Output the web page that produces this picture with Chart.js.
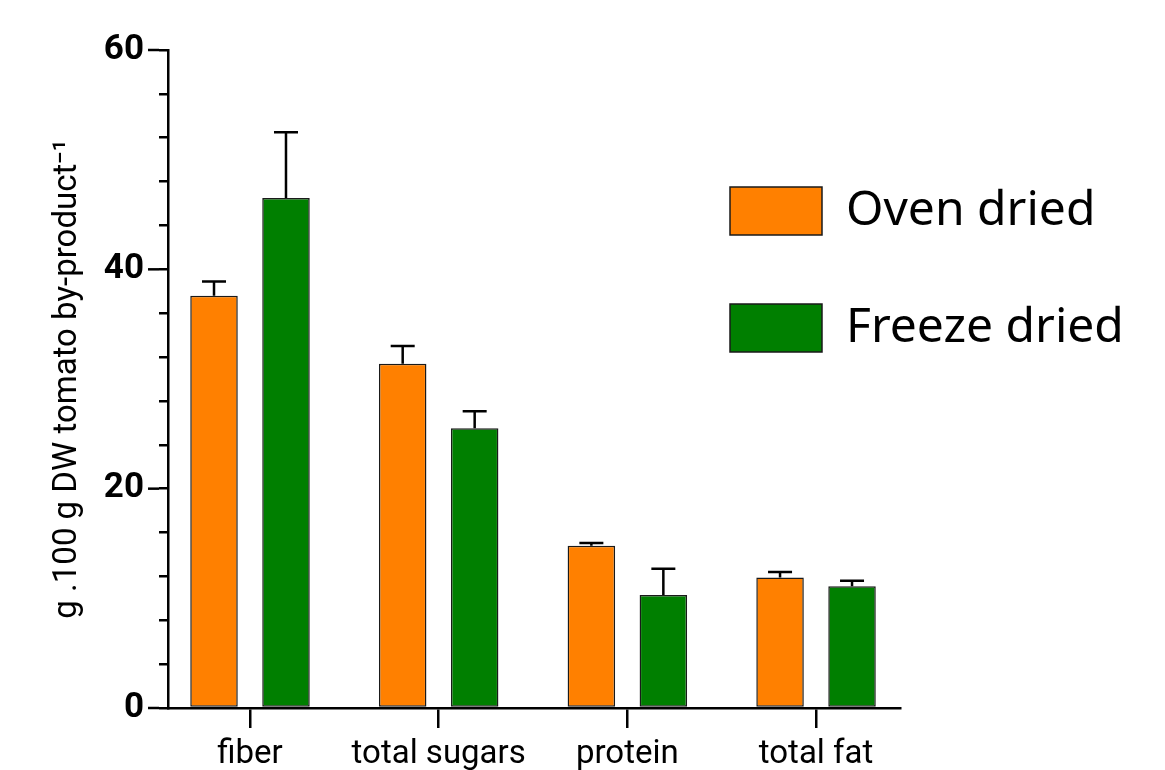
<!DOCTYPE html>
<html>
<head>
<meta charset="utf-8">
<script src="https://cdn.jsdelivr.net/npm/chart.js@4/dist/chart.umd.min.js"></script>
<style>
  html, body { margin: 0; padding: 0; background: #fff; }
  #wrap { width: 1165px; height: 770px; }
</style>
</head>
<body>
<div id="wrap"><canvas id="chart" width="1165" height="770"></canvas></div>
<script>
const categories = ['fiber', 'total sugars', 'protein', 'total fat'];
const ovenValues   = [37.6, 31.4, 14.8, 11.9];
const ovenErrors   = [1.3, 1.6, 0.25, 0.5];
const freezeValues = [46.5, 25.5, 10.3, 11.1];
const freezeErrors = [6.0, 1.55, 2.4, 0.5];
const yTicks = [0, 20, 40, 60];

Chart.defaults.font.family = 'Roboto';
Chart.defaults.color = '#000';

const toPoints = vals => vals.map((v, i) => ({ x: i, y: v }));

// error bars (upper half only, like the original)
const errorBars = {
  id: 'errorBars',
  afterDatasetsDraw(chart) {
    const ctx = chart.ctx;
    const yScale = chart.scales.y;
    chart.data.datasets.forEach((ds, di) => {
      const meta = chart.getDatasetMeta(di);
      meta.data.forEach((bar, j) => {
        const top = yScale.getPixelForValue(ds.data[j].y + ds.errors[j]);
        ctx.save();
        ctx.strokeStyle = '#000';
        ctx.lineWidth = 2.5;
        ctx.beginPath();
        ctx.moveTo(bar.x, bar.y);
        ctx.lineTo(bar.x, top);
        ctx.moveTo(bar.x - 12, top);
        ctx.lineTo(bar.x + 12, top);
        ctx.stroke();
        ctx.restore();
      });
    });
  }
};

// longer ticks at labelled values
const majorTicks = {
  id: 'majorTicks',
  afterDraw(chart) {
    const ctx = chart.ctx;
    const yScale = chart.scales.y;
    const x0 = chart.chartArea.left;
    ctx.save();
    ctx.strokeStyle = '#000';
    ctx.lineWidth = 2.5;
    yTicks.forEach(v => {
      const y = yScale.getPixelForValue(v);
      ctx.beginPath();
      ctx.moveTo(x0 - 20, y);
      ctx.lineTo(x0 - 9, y);
      ctx.stroke();
    });
    ctx.restore();
  }
};

// move the legend to the right side of the plot
const legendPlace = {
  id: 'legendPlace',
  afterLayout(chart) {
    const lg = chart.legend;
    if (!lg) return;
    lg.left = 661;
    lg.top = 118;
    lg.right = 1165;
    lg.bottom = 760;
  }
};

new Chart(document.getElementById('chart'), {
  type: 'bar',
  data: {
    datasets: [
      {
        label: 'Oven dried',
        data: toPoints(ovenValues),
        errors: ovenErrors,
        backgroundColor: '#FF8000',
        borderColor: '#1a1a1a',
        borderWidth: 1.5,
        borderSkipped: false
      },
      {
        label: 'Freeze dried',
        data: toPoints(freezeValues),
        errors: freezeErrors,
        backgroundColor: '#007F00',
        borderColor: '#1a1a1a',
        borderWidth: 1.5,
        borderSkipped: false
      }
    ]
  },
  options: {
    responsive: false,
    animation: false,
    categoryPercentage: 0.763,
    barPercentage: 0.66,
    layout: { padding: { left: 0, right: 265, top: 50, bottom: 0 } },
    plugins: {
      tooltip: { enabled: false },
      legend: {
        position: 'chartArea',
        align: 'start',
        labels: {
          boxWidth: 92,
          boxHeight: 48,
          padding: 69,
          color: '#000',
          font: { family: 'Noto Sans', size: 48 }
        }
      }
    },
    scales: {
      x: {
        type: 'linear',
        offset: false,
        min: -0.4346,
        max: 3.445,
        afterBuildTicks: s => { s.ticks = categories.map((_, i) => ({ value: i })); },
        afterFit: s => { s.height = 62; },
        grid: { offset: false, drawOnChartArea: false, drawTicks: true, tickLength: 20, color: '#000', lineWidth: 2.5 },
        border: { color: '#000', width: 2.5 },
        ticks: {
          padding: 7,
          maxRotation: 0,
          autoSkip: false,
          font: { size: 33 },
          callback: v => categories[v]
        }
      },
      y: {
        min: 0,
        max: 60,
        afterFit: s => { s.width = 168; },
        grid: { drawOnChartArea: false, drawTicks: true, tickLength: 9, color: '#000', lineWidth: 2.5 },
        border: { color: '#000', width: 2.5 },
        ticks: {
          stepSize: 4,
          autoSkip: false,
          padding: 15,
          font: { size: 35, weight: 'bold' },
          callback: v => (v % 20 === 0 ? v : '')
        },
        title: {
          display: true,
          text: 'g .100 g DW tomato by-product⁻¹',
          font: { size: 33 },
          padding: { top: 48, bottom: 0 }
        }
      }
    }
  },
  plugins: [errorBars, majorTicks, legendPlace]
});
</script>
</body>
</html>
